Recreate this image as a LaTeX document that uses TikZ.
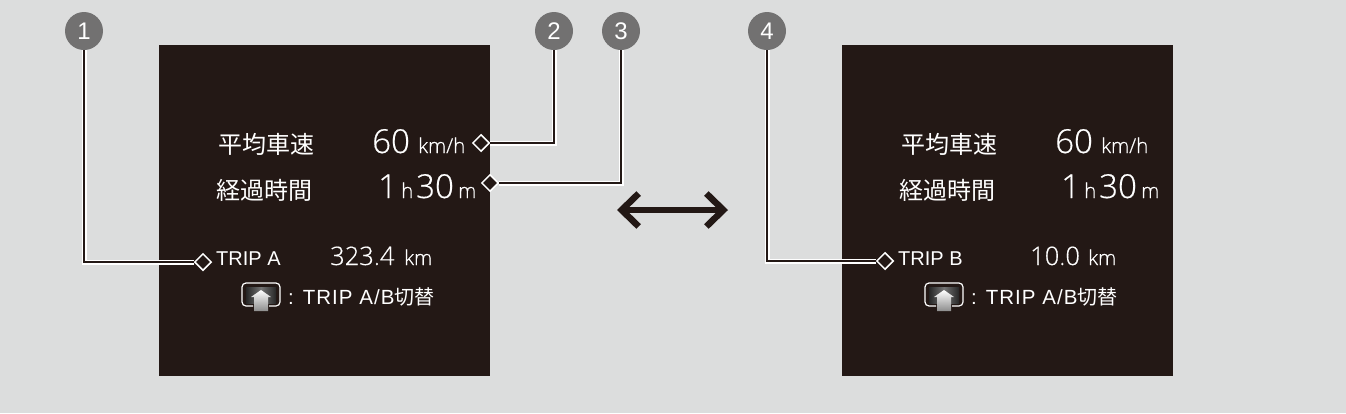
\documentclass[tikz,border=0pt]{standalone}
\usepackage{fontspec}
\setmainfont{Liberation Sans}
\newfontfamily\cjkfont{Noto Sans CJK JP}
\newfontfamily\lightfont[RawFeature={embolden=0.5}]{Open Sans Light}
\usetikzlibrary{arrows.meta,shapes.geometric}
\definecolor{panelcol}{HTML}{231815}
\definecolor{bgcol}{HTML}{DCDDDD}
\definecolor{numcol}{HTML}{727171}
\tikzset{
  panel/.style={fill=panelcol,draw=none},
  numdot/.style={circle,fill=numcol,text=white,minimum size=38pt,inner sep=0pt,font=\fontsize{24}{24}\selectfont},
  marker/.style={diamond,draw=white,fill=panelcol,line width=1.5pt,minimum width=17pt,minimum height=17pt,inner sep=0pt},
  leader/.style={draw=white,double=panelcol,line width=1.5pt,double distance=2pt},
  txt/.style={anchor=base west,inner sep=0pt,text=white},
  jp/.style={txt,font=\fontsize{24}{24}\selectfont\cjkfont},
  big/.style={txt,font=\fontsize{33}{33}\selectfont\lightfont},
  mid/.style={txt,font=\fontsize{25.5}{26}\selectfont\lightfont},
  unit/.style={txt,font=\fontsize{20.5}{20}\selectfont\lightfont},
  small/.style={txt,font=\fontsize{20}{20}\selectfont},
  switchtxt/.style={txt,font=\fontsize{20.5}{20}\selectfont\addfontfeature{LetterSpace=5}},
  tripicon/.pic={
    \draw[white,line width=1.2pt,rounded corners=4pt] (-8,10) -- (-19,10) -- (-19,-13) -- (19,-13) -- (19,10) -- (8,10);
    \shade[left color=black!85,right color=black!85,middle color=black!55] (-15,-9) rectangle (15,7);
    \shade[top color=white,bottom color=black!45] (0,-6) -- (10,1) -- (7,1) -- (7,15) -- (-7,15) -- (-7,1) -- (-10,1) -- cycle;
  }
}
\begin{document}
\begin{tikzpicture}[x=1pt,y=-1pt]
    \fill[bgcol] (0,0) rectangle (1346,413);
    \useasboundingbox (0,0) rectangle (1346,413);

    %left panel
    \fill[panel] (159,45) rectangle (490,376);
    \node[jp] (a1) at (218,153) {平均車速};
    \node[big] (a2) at (372,153) {60};
    \node[unit] (a3) at (418,153) {km/h};
    \node[jp] (a4) at (216,199) {経過時間};
    \node[big] (a5) at (378,198) {1};
    \node[unit] (a6) at (401,198) {h};
    \node[big] (a7) at (416,198) {30};
    \node[unit] (a8) at (458,198) {m};
    \node[small] (a9) at (216,265) {TRIP A};
    \node[mid] (a10) at (330,265) {323.4};
    \node[unit] (a11) at (404,265) {km};
    \pic at (261,296) {tripicon};
    \node[switchtxt] (a12) at (288,304) {: TRIP A/B{\cjkfont\fontsize{20}{20}\selectfont 切替}};

    %right panel
    \fill[panel] (842,45) rectangle (1173,376);
    \node[jp] (b1) at (901,153) {平均車速};
    \node[big] (b2) at (1055,153) {60};
    \node[unit] (b3) at (1101,153) {km/h};
    \node[jp] (b4) at (899,199) {経過時間};
    \node[big] (b5) at (1061,198) {1};
    \node[unit] (b6) at (1084,198) {h};
    \node[big] (b7) at (1099,198) {30};
    \node[unit] (b8) at (1141,198) {m};
    \node[small] (b9) at (898,265) {TRIP B};
    \node[mid] (b10) at (1030,265) {10.0};
    \node[unit] (b11) at (1088,265) {km};
    \pic at (944,296) {tripicon};
    \node[switchtxt] (b12) at (971,304) {: TRIP A/B{\cjkfont\fontsize{20}{20}\selectfont 切替}};

    %numbers and markers
    \node[numdot] (n1) at (84,31) {1};
    \node[numdot] (n2) at (554,31) {2};
    \node[numdot] (n3) at (621,31) {3};
    \node[numdot] (n4) at (767,31) {4};
    \node[marker] (d1) at (203,262) {};
    \node[marker] (d2) at (481,143) {};
    \node[marker] (d3) at (490,183) {};
    \node[marker] (d4) at (885,261) {};

    \draw[leader] (n1) |- (d1);
    \draw[leader] (n2) |- (d2);
    \draw[leader] (n3) |- (d3);
    \draw[leader] (n4) |- (d4);

    \coordinate (l) at (617,210);
    \coordinate (r) at (728,210);
    \draw[{Straight Barb[length=17pt,width=33pt,line width=6.5pt]}-{Straight Barb[length=17pt,width=33pt,line width=6.5pt]},panelcol,line width=5.5pt] (l) to (r);
\end{tikzpicture}
\end{document}
